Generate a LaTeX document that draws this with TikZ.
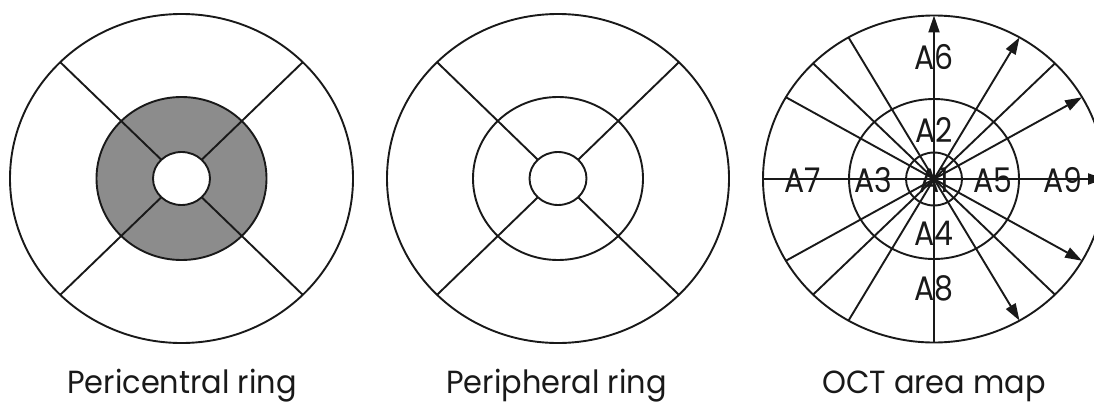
\documentclass[tikz,border=0pt]{standalone}
\usepackage{fontspec}
\setmainfont{Poppins}
\usetikzlibrary{arrows.meta,calc}
\definecolor{ringgray}{RGB}{140,140,140}
\definecolor{ink}{RGB}{25,25,25}
\begin{document}
\begin{tikzpicture}[x=1pt,y=-1pt,
  line/.style={line width=1.9pt, draw=ink},
  lbl/.style={font=\fontsize{34}{34}\selectfont, inner sep=0pt, text=ink, xscale=0.88, transform shape},
  captxt/.style={font=\fontsize{32}{32}\selectfont, inner sep=0pt, anchor=base, text=ink, xscale=0.95, transform shape},
  arr/.style={line, -{Triangle[length=17pt,width=11pt]}}]
\useasboundingbox (0,0) rectangle (1094,404);
\clip (0,0) rectangle (1094,404);
% ---------- diagram 1: pericentral ring ----------
\coordinate (c1) at (181.5,178.5);
\fill[ringgray] (c1) ellipse [x radius=85pt, y radius=81.5pt];
\foreach \a in {45,135,225,315}
  \draw[line] ($(c1)+(\a:28.5pt and 26.5pt)$) -- ($(c1)+(\a:171.5pt and 164.5pt)$);
\draw[line] (c1) ellipse [x radius=171.5pt, y radius=164.5pt];
\draw[line] (c1) ellipse [x radius=85pt, y radius=81.5pt];
\draw[line, fill=white] (c1) ellipse [x radius=28.5pt, y radius=26.5pt];
\node[captxt] (cap1) at (182,393) {Pericentral ring};
% ---------- diagram 2: peripheral ring ----------
\coordinate (c2) at (558,178.5);
\foreach \a in {45,135,225,315}
  \draw[line] ($(c2)+(\a:28.5pt and 26.5pt)$) -- ($(c2)+(\a:171pt and 164.5pt)$);
\draw[line] (c2) ellipse [x radius=171pt, y radius=164.5pt];
\draw[line] (c2) ellipse [x radius=85pt, y radius=81.5pt];
\draw[line] (c2) ellipse [x radius=28.5pt, y radius=26.5pt];
\node[captxt] (cap2) at (556.5,393) {Peripheral ring};
% ---------- diagram 3: OCT area map ----------
\coordinate (c3) at (934,179);
\draw[line] (c3) ellipse [x radius=171pt, y radius=163.5pt];
\draw[line] (c3) ellipse [x radius=85pt, y radius=80pt];
\draw[line] (c3) ellipse [x radius=28pt, y radius=26.5pt];
\foreach \a in {45,120,135,150,180,210,225,240,270,315}
  \draw[line] (c3) -- ($(c3)+(\a:171pt and 163.5pt)$);
\foreach \a in {90,60,30,0,-30,-60}
  \draw[arr] (c3) -- ($(c3)+(\a:171pt and 163.5pt)$);
\node[lbl] (a6) at (934,57) {A6};
\node[lbl] (a2) at (934,130) {A2};
\node[lbl] (a7) at (803,180) {A7};
\node[lbl] (a3) at (873,180) {A3};
\node[lbl] (a1) at (934,180) {A1};
\node[lbl] (a5) at (993,180) {A5};
\node[lbl] (a9) at (1063,180) {A9};
\node[lbl] (a4) at (934,233) {A4};
\node[lbl] (a8) at (934,288) {A8};
\node[captxt] (cap3) at (934,393) {OCT area map};
\end{tikzpicture}
\end{document}
